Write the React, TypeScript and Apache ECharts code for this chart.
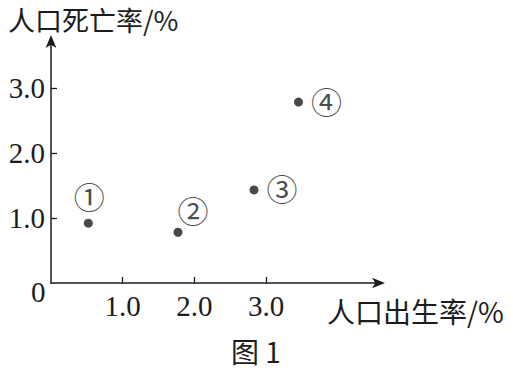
import React, { useEffect, useRef } from "react";
import * as echarts from "echarts";

const pointNames = ["①", "②", "③", "④"];
const birthRates = [0.52, 1.77, 2.83, 3.45];
const deathRates = [0.92, 0.78, 1.43, 2.78];
const tickValues = [1, 2, 3];
const xAxisTitle = "人口出生率/%";
const yAxisTitle = "人口死亡率/%";
const caption = "图 1";

const labelOffsets: [number, number][] = [
  [1, -25],
  [15, -20],
  [28, 1],
  [28, 1],
];

const SERIF = "'Liberation Serif', 'DejaVu Serif', 'Noto Sans CJK SC', serif";
const CJK = "'Noto Sans CJK SC', 'Liberation Serif', serif";
const INK = "#1c1c1c";

export default function App() {
  const ref = useRef<HTMLDivElement>(null);
  useEffect(() => {
    document.body.style.margin = "0";
    if (!ref.current) return;
    const chart = echarts.init(ref.current, undefined, { renderer: "svg" });
    const data = birthRates.map((x, i) => ({
      value: [x, deathRates[i]],
      name: pointNames[i],
      label: { offset: labelOffsets[i] },
    }));
    chart.setOption({
      animation: false,
      backgroundColor: "#ffffff",
      grid: { left: 51, right: 132, top: 39, bottom: 87 },
      xAxis: {
        type: "value",
        min: 0,
        max: 4.6,
        interval: 1,
        splitLine: { show: false },
        axisLine: {
          show: true,
          lineStyle: { color: INK, width: 1.5 },
          symbol: ["none", "arrow"],
          symbolSize: [8, 13],
          symbolOffset: [0, 4],
        },
        axisTick: {
          show: true,
          inside: true,
          length: 6,
          customValues: tickValues,
          lineStyle: { color: INK, width: 1.3 },
        },
        axisLabel: {
          customValues: tickValues,
          formatter: (v: number) => v.toFixed(1),
          fontFamily: SERIF,
          fontSize: 29,
          color: INK,
          margin: 8,
        },
      },
      yAxis: {
        type: "value",
        min: 0,
        max: 3.75,
        interval: 1,
        splitLine: { show: false },
        axisLine: {
          show: true,
          lineStyle: { color: INK, width: 1.5 },
          symbol: ["none", "arrow"],
          symbolSize: [8, 13],
          symbolOffset: [0, 4],
        },
        axisTick: {
          show: true,
          inside: true,
          length: 6,
          customValues: tickValues,
          lineStyle: { color: INK, width: 1.3 },
        },
        axisLabel: {
          customValues: tickValues,
          formatter: (v: number) => v.toFixed(1),
          fontFamily: SERIF,
          fontSize: 29,
          color: INK,
          margin: 6,
        },
      },
      series: [
        {
          type: "scatter",
          symbol: "circle",
          symbolSize: 9,
          itemStyle: { color: INK },
          data,
          label: {
            show: true,
            position: "inside",
            align: "center",
            verticalAlign: "middle",
            formatter: (p: any) => p.name,
            fontFamily: SERIF,
            fontSize: 31,
            color: INK,
          },
        },
      ],
      graphic: [
        {
          type: "text",
          left: 8,
          top: 6,
          style: { text: yAxisTitle, font: `27px ${CJK}`, fill: INK },
        },
        {
          type: "text",
          left: 327,
          top: 297,
          style: { text: xAxisTitle, font: `28px ${CJK}`, fill: INK },
        },
        {
          type: "text",
          left: 31,
          top: 277,
          style: { text: "0", font: `29px ${SERIF}`, fill: INK },
        },
        {
          type: "text",
          left: 231,
          top: 337,
          style: { text: caption, font: `28px ${CJK}`, fill: INK },
        },
      ],
    });
    return () => chart.dispose();
  }, []);
  return <div ref={ref} style={{ width: 513, height: 370 }} />;
}
